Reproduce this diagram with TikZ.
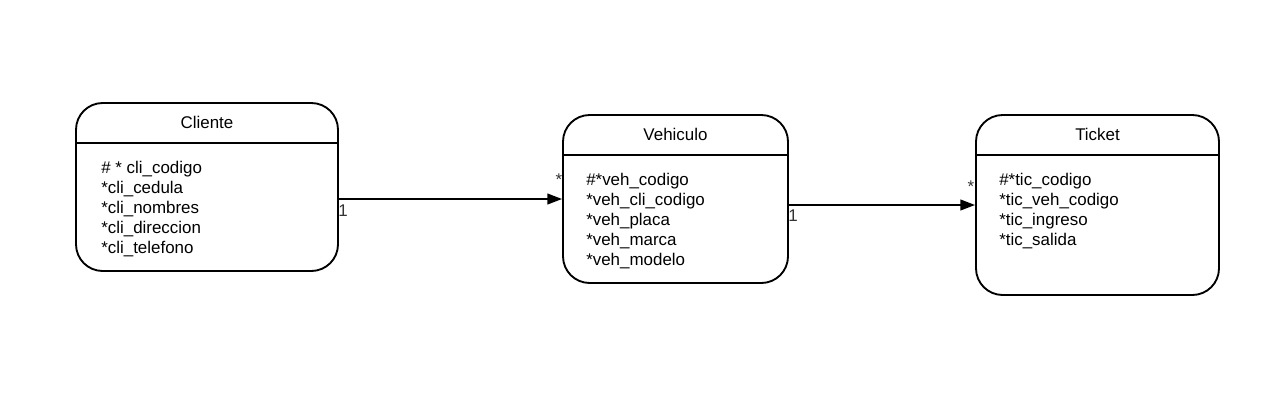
\documentclass[tikz,border=0pt]{standalone}
\usepackage{fontspec}
\setmainfont{Liberation Sans}
\usetikzlibrary{arrows.meta}

\begin{document}
\begin{tikzpicture}[x=0.75pt,y=0.75pt,yscale=-1,xscale=1,
    entbox/.style={draw, line width=1.4pt, rounded corners=20pt, inner sep=0pt},
    attrs/.style={anchor=north west, inner sep=0pt, align=left, font=\fontsize{12.7}{15}\selectfont},
    title/.style={inner sep=0pt, font=\fontsize{12.7}{15}\selectfont},
    rel/.style={line width=1.4pt, -{Triangle[length=11pt,width=8pt]}},
    mult/.style={inner sep=0pt, text=black!80, font=\fontsize{12.7}{15}\selectfont}]
    \useasboundingbox (0,0) rectangle (1266,411);

    %Entity: Cliente
    \node [entbox, minimum width=196.5pt, minimum height=126pt] (cli) at (207,187) {};
    \draw [line width=1.4pt] ([yshift=30.75pt]cli.north west) -- ([yshift=30.75pt]cli.north east);
    %Entity: Vehiculo
    \node [entbox, minimum width=168.75pt, minimum height=126pt] (veh) at (675.5,199) {};
    \draw [line width=1.4pt] ([yshift=30.75pt]veh.north west) -- ([yshift=30.75pt]veh.north east);
    %Entity: Ticket
    \node [entbox, minimum width=182.25pt, minimum height=135pt] (tic) at (1097.5,205) {};
    \draw [line width=1.4pt] ([yshift=30.75pt]tic.north west) -- ([yshift=30.75pt]tic.north east);

    % Text Node
    \node [title] (clit) at (207,122) {Cliente};
    \node [title] (veht) at (675.5,134) {Vehiculo};
    \node [title] (tict) at (1097.5,134) {Ticket};

    % Text Node
    \node [attrs] (clia) at (101,161) {\# * cli\_codigo\\*cli\_cedula\\*cli\_nombres\\*cli\_direccion\\*cli\_telefono};
    \node [attrs] (veha) at (586,173) {\#*veh\_codigo\\*veh\_cli\_codigo\\*veh\_placa\\*veh\_marca\\*veh\_modelo};
    \node [attrs] (tica) at (999,173) {\#*tic\_codigo\\*tic\_veh\_codigo\\*tic\_ingreso\\*tic\_salida};

    %Straight Lines
    \draw [rel] (cli.east |- veh.west) -- (veh.west);
    \draw [rel] (veh.east |- tic.west) -- (tic.west);

    % Text Node
    \node [mult] (m1) at (343,211) {1};
    \node [mult] (m2) at (559,180) {*};
    \node [mult] (m3) at (793,216) {1};
    \node [mult] (m4) at (971,187) {*};
\end{tikzpicture}
\end{document}
